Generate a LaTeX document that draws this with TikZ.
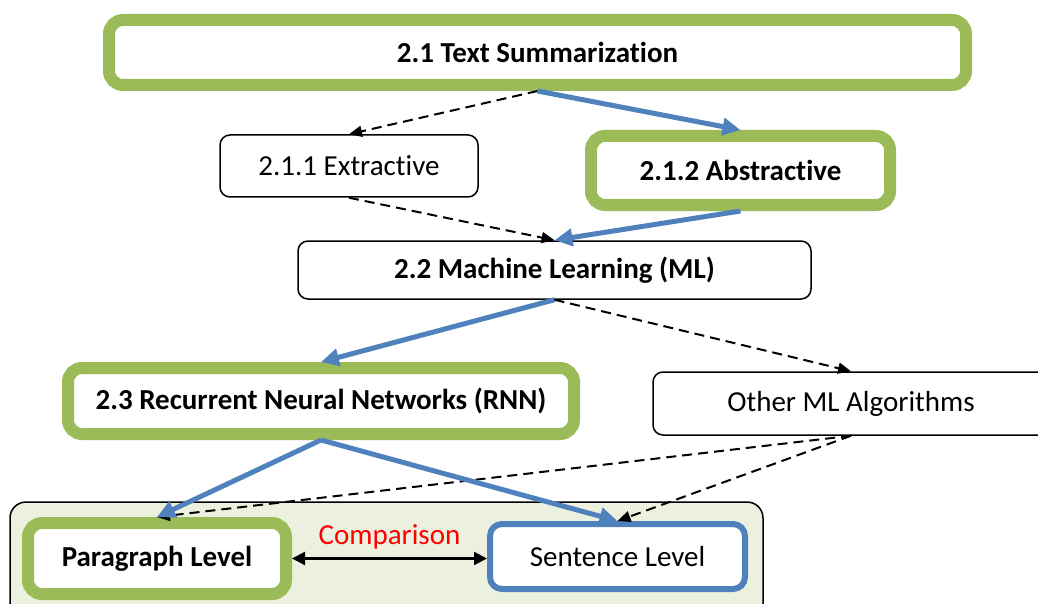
\documentclass[tikz,border=0pt]{standalone}
\usepackage{fontspec}
\setmainfont{Carlito}[Ligatures=NoCommon]
\usetikzlibrary{arrows.meta}
\definecolor{hlgreen}{HTML}{9BBB59}
\definecolor{hlblue}{HTML}{4F81BD}
\definecolor{groupbg}{HTML}{EBF1DE}
\begin{document}
\begin{tikzpicture}[x=1pt,y=-1pt,
  txt/.style={font=\fontsize{29}{34}\selectfont},
  plainbox/.style={txt, draw=black, line width=1.5pt, rounded corners=10pt,
    fill=white, inner sep=0pt},
  keybox/.style={plainbox, draw=hlgreen, line width=12pt, rounded corners=14pt,
    font=\fontsize{29}{34}\selectfont\bfseries},
  bluebox/.style={plainbox, draw=hlblue, line width=6pt, rounded corners=12pt},
  mainflow/.style={draw=hlblue, line width=5pt,
    -{Triangle[length=18pt,width=17pt]}},
  altflow/.style={draw=black, line width=2pt, dash pattern=on 10pt off 6pt,
    -{Triangle[length=13pt,width=11pt]}},
  compare/.style={draw=black, line width=2.2pt,
    {Triangle[length=13pt,width=13pt]}-{Triangle[length=13pt,width=13pt]}}
]
\path[use as bounding box, clip] (0,0) rectangle (1038,604);

% grouping panel for the two levels
\node[draw=black, line width=1.5pt, fill=groupbg, rounded corners=16pt,
  minimum width=753pt, minimum height=130pt, inner sep=0pt] (grp) at (386.5,567) {};

% boxes
\node[keybox, minimum width=857pt, minimum height=65pt] (ts) at (537.5,52.5) {2.1 Text Summarization};
\node[plainbox, minimum width=258pt, minimum height=62pt] (ext) at (349,166) {2.1.1 Extractive};
\node[keybox, minimum width=299pt, minimum height=69pt] (abs) at (740.5,170.5) {2.1.2 Abstractive};
\node[plainbox, minimum width=513pt, minimum height=58pt, font=\fontsize{29}{34}\selectfont\bfseries] (ml) at (554.5,270) {2.2 Machine Learning (ML)};
\node[keybox, minimum width=506pt, minimum height=66pt] (rnn) at (321,401) {2.3 Recurrent Neural Networks (RNN)};
\node[plainbox, minimum width=396pt, minimum height=63pt] (oth) at (851,403.5) {Other ML Algorithms};
\node[keybox, minimum width=258pt, minimum height=71pt] (par) at (157,558.5) {Paragraph Level};
\node[bluebox, minimum width=255pt, minimum height=65pt] (sen) at (617.5,556.5) {Sentence Level};

% connectors
\draw[altflow] (ts.south) -- (ext.north);
\draw[mainflow] (ts.south) -- (abs.north);
\draw[altflow] (ext.south) -- (ml.north);
\draw[mainflow] (abs.south) -- (ml.north);
\draw[mainflow] (ml.south) -- (rnn.north);
\draw[altflow] (ml.south) -- (oth.north);
\draw[altflow] (oth.south) -- (par.north);
\draw[altflow] (oth.south) -- (sen.north);
\draw[mainflow] (rnn.south) -- (par.north);
\draw[mainflow] (rnn.south) -- (sen.north);
\draw[compare] (par.east) -- (par.east -| sen.west)
  node[midway, above=5pt, txt, text=red] (cmp) {Comparison};
\end{tikzpicture}
\end{document}
